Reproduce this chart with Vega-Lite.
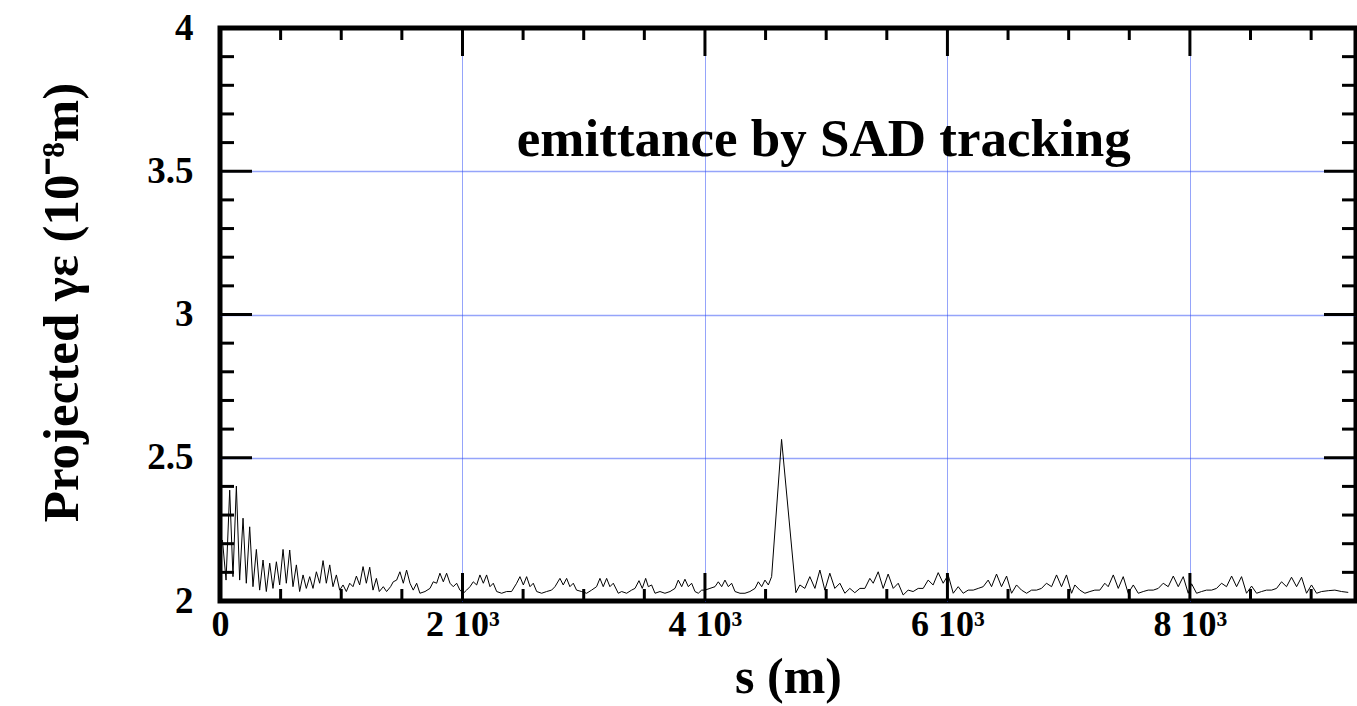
{
  "$schema": "https://vega.github.io/schema/vega-lite/v6.json",
  "width": 1136,
  "height": 573,
  "autosize": {"type": "none"},
  "padding": {"left": 220, "top": 28, "right": 1, "bottom": 105},
  "background": "white",
  "config": {"view": {"stroke": "black", "strokeWidth": 5}, "font": "Liberation Serif"},
  "datasets": {
    "xmajor": [{"v": 2000}, {"v": 4000}, {"v": 6000}, {"v": 8000}],
    "xminor": [{"v": 500}, {"v": 1000}, {"v": 1500}, {"v": 2500}, {"v": 3000}, {"v": 3500}, {"v": 4500}, {"v": 5000}, {"v": 5500}, {"v": 6500}, {"v": 7000}, {"v": 7500}, {"v": 8500}, {"v": 9000}],
    "ymajor": [{"v": 2.5}, {"v": 3}, {"v": 3.5}],
    "yminor": [{"v": 2.1}, {"v": 2.2}, {"v": 2.3}, {"v": 2.4}, {"v": 2.6}, {"v": 2.7}, {"v": 2.8}, {"v": 2.9}, {"v": 3.1}, {"v": 3.2}, {"v": 3.3}, {"v": 3.4}, {"v": 3.6}, {"v": 3.7}, {"v": 3.8}, {"v": 3.9}],
    "emit": [
      {"s":20,"e":2.213},{"s":50,"e":2.073},{"s":80,"e":2.387},{"s":107,"e":2.085},{"s":135,"e":2.401},{"s":162,"e":2.073},{"s":190,"e":2.289},{"s":217,"e":2.062},{"s":245,"e":2.259},{"s":272,"e":2.05},
      {"s":300,"e":2.18},{"s":327,"e":2.038},{"s":355,"e":2.143},{"s":382,"e":2.033},{"s":410,"e":2.132},{"s":437,"e":2.044},{"s":465,"e":2.137},{"s":492,"e":2.056},{"s":520,"e":2.18},{"s":547,"e":2.062},
      {"s":575,"e":2.178},{"s":602,"e":2.05},{"s":630,"e":2.126},{"s":657,"e":2.033},{"s":685,"e":2.091},{"s":712,"e":2.044},{"s":740,"e":2.085},{"s":767,"e":2.044},{"s":795,"e":2.102},{"s":822,"e":2.062},
      {"s":850,"e":2.141},{"s":877,"e":2.062},{"s":905,"e":2.126},{"s":932,"e":2.05},{"s":960,"e":2.091},{"s":987,"e":2.038},{"s":1015,"e":2.056},{"s":1042,"e":2.033},{"s":1070,"e":2.062},{"s":1097,"e":2.05},
      {"s":1125,"e":2.087},{"s":1152,"e":2.056},{"s":1180,"e":2.12},{"s":1207,"e":2.062},{"s":1235,"e":2.118},{"s":1262,"e":2.038},{"s":1290,"e":2.079},
      {"s":1314,"e":2.033},{"s":1347,"e":2.05},{"s":1374,"e":2.033},{"s":1407,"e":2.05},{"s":1429,"e":2.067},{"s":1457,"e":2.073},{"s":1484,"e":2.102},{"s":1512,"e":2.062},{"s":1539,"e":2.108},{"s":1567,"e":2.062},
      {"s":1594,"e":2.038},{"s":1622,"e":2.062},{"s":1649,"e":2.027},{"s":1691,"e":2.033},{"s":1732,"e":2.044},{"s":1759,"e":2.067},{"s":1787,"e":2.062},{"s":1814,"e":2.097},{"s":1842,"e":2.067},{"s":1869,"e":2.097},
      {"s":1897,"e":2.062},{"s":1924,"e":2.05},{"s":1952,"e":2.062},{"s":1979,"e":2.038},{"s":2007,"e":2.027},{"s":2034,"e":2.038},{"s":2062,"e":2.05},{"s":2089,"e":2.067},{"s":2117,"e":2.056},{"s":2144,"e":2.091},
      {"s":2172,"e":2.062},{"s":2199,"e":2.091},{"s":2227,"e":2.05},{"s":2254,"e":2.062},{"s":2282,"e":2.033},{"s":2323,"e":2.027},{"s":2364,"e":2.033},{"s":2405,"e":2.033},{"s":2447,"e":2.062},{"s":2474,"e":2.085},
      {"s":2502,"e":2.056},{"s":2529,"e":2.085},{"s":2557,"e":2.05},{"s":2584,"e":2.062},{"s":2612,"e":2.033},{"s":2653,"e":2.027},{"s":2694,"e":2.033},{"s":2735,"e":2.038},{"s":2763,"e":2.05},{"s":2804,"e":2.079},
      {"s":2831,"e":2.056},{"s":2859,"e":2.079},{"s":2886,"e":2.05},{"s":2914,"e":2.062},{"s":2941,"e":2.038},{"s":2983,"e":2.033},{"s":3024,"e":2.027},{"s":3065,"e":2.038},{"s":3106,"e":2.05},{"s":3134,"e":2.079},
      {"s":3161,"e":2.05},{"s":3189,"e":2.079},{"s":3216,"e":2.05},{"s":3244,"e":2.062},
      {"s":3285,"e":2.027},{"s":3313,"e":2.033},{"s":3354,"e":2.027},{"s":3395,"e":2.038},{"s":3423,"e":2.044},{"s":3456,"e":2.071},{"s":3483,"e":2.044},{"s":3511,"e":2.079},{"s":3533,"e":2.05},{"s":3560,"e":2.056},
      {"s":3588,"e":2.027},{"s":3629,"e":2.033},{"s":3670,"e":2.027},{"s":3712,"e":2.033},{"s":3753,"e":2.044},{"s":3780,"e":2.073},{"s":3808,"e":2.05},{"s":3835,"e":2.076},{"s":3863,"e":2.05},{"s":3890,"e":2.062},
      {"s":3918,"e":2.033},{"s":3945,"e":2.027},{"s":3973,"e":2.038},{"s":4000,"e":2.038},{"s":4041,"e":2.044},{"s":4083,"e":2.05},{"s":4110,"e":2.067},{"s":4138,"e":2.05},{"s":4165,"e":2.073},{"s":4193,"e":2.05},
      {"s":4220,"e":2.062},{"s":4248,"e":2.033},{"s":4289,"e":2.027},{"s":4330,"e":2.027},{"s":4371,"e":2.033},{"s":4413,"e":2.044},{"s":4440,"e":2.067},{"s":4468,"e":2.05},{"s":4495,"e":2.073},{"s":4523,"e":2.056},
      {"s":4550,"e":2.085},{"s":4632,"e":2.564},{"s":4750,"e":2.029},
      {"s":4783,"e":2.056},{"s":4824,"e":2.044},{"s":4865,"e":2.085},{"s":4907,"e":2.044},{"s":4948,"e":2.108},{"s":4989,"e":2.038},{"s":5030,"e":2.097},{"s":5071,"e":2.044},{"s":5113,"e":2.062},{"s":5154,"e":2.027},
      {"s":5195,"e":2.044},{"s":5236,"e":2.029},{"s":5278,"e":2.044},{"s":5319,"e":2.044},{"s":5360,"e":2.079},{"s":5388,"e":2.062},{"s":5429,"e":2.102},{"s":5470,"e":2.044},{"s":5511,"e":2.094},{"s":5553,"e":2.044},
      {"s":5594,"e":2.062},{"s":5635,"e":2.021},{"s":5676,"e":2.038},{"s":5717,"e":2.033},{"s":5759,"e":2.044},{"s":5800,"e":2.044},{"s":5841,"e":2.073},{"s":5882,"e":2.056},{"s":5924,"e":2.099},{"s":5965,"e":2.062},
      {"s":6006,"e":2.091},{"s":6048,"e":2.027},{"s":6089,"e":2.05},{"s":6130,"e":2.027},{"s":6171,"e":2.038},{"s":6213,"e":2.038},{"s":6254,"e":2.044},{"s":6295,"e":2.05},{"s":6336,"e":2.073},{"s":6364,"e":2.05},
      {"s":6405,"e":2.094},{"s":6446,"e":2.05},{"s":6488,"e":2.087},{"s":6529,"e":2.027},{"s":6570,"e":2.056},{"s":6611,"e":2.038},{"s":6653,"e":2.027},{"s":6694,"e":2.038},{"s":6735,"e":2.038},{"s":6776,"e":2.044},
      {"s":6817,"e":2.062},{"s":6859,"e":2.05},{"s":6900,"e":2.091},{"s":6941,"e":2.05},{"s":6982,"e":2.091},{"s":7024,"e":2.027},{"s":7051,"e":2.056},{"s":7092,"e":2.038},{"s":7134,"e":2.027},{"s":7175,"e":2.033},
      {"s":7216,"e":2.038},{"s":7257,"e":2.038},{"s":7298,"e":2.062},
      {"s":7326,"e":2.05},{"s":7368,"e":2.091},{"s":7409,"e":2.044},{"s":7450,"e":2.085},{"s":7491,"e":2.027},{"s":7533,"e":2.056},{"s":7574,"e":2.027},{"s":7615,"e":2.033},{"s":7656,"e":2.038},{"s":7698,"e":2.038},
      {"s":7739,"e":2.044},{"s":7780,"e":2.062},{"s":7821,"e":2.05},{"s":7863,"e":2.087},{"s":7904,"e":2.05},{"s":7945,"e":2.085},{"s":7986,"e":2.027},{"s":8014,"e":2.06},{"s":8055,"e":2.027},{"s":8096,"e":2.033},
      {"s":8137,"e":2.038},{"s":8179,"e":2.038},{"s":8220,"e":2.044},{"s":8261,"e":2.062},{"s":8302,"e":2.05},{"s":8344,"e":2.087},{"s":8385,"e":2.05},{"s":8426,"e":2.085},{"s":8467,"e":2.027},{"s":8509,"e":2.052},
      {"s":8550,"e":2.027},{"s":8591,"e":2.033},{"s":8632,"e":2.038},{"s":8674,"e":2.038},{"s":8715,"e":2.044},{"s":8756,"e":2.067},{"s":8797,"e":2.05},{"s":8838,"e":2.083},{"s":8880,"e":2.05},{"s":8921,"e":2.083},
      {"s":8962,"e":2.027},{"s":9003,"e":2.056},{"s":9045,"e":2.027},{"s":9086,"e":2.033},{"s":9141,"e":2.036},{"s":9196,"e":2.038},{"s":9251,"e":2.033},{"s":9306,"e":2.03}
    ]
  },
  "layer": [
    {
      "data": {"name": "emit"},
      "mark": {"type": "line", "color": "black", "strokeWidth": 1},
      "encoding": {
        "x": {
          "field": "s", "type": "quantitative",
          "scale": {"domain": [0, 9370], "nice": false, "zero": false},
          "axis": {
            "orient": "bottom",
            "values": [0, 2000, 4000, 6000, 8000],
            "labelExpr": "datum.value === 0 ? '0' : (datum.value/1000) + ' 10³'",
            "labelFont": "Liberation Serif", "labelFontWeight": "bold", "labelFontSize": 36, "labelColor": "black",
            "labelFlush": false, "labelOverlap": false, "labelBound": false, "labelPadding": 6,
            "ticks": false, "tickSize": 0, "domain": false,
            "grid": true, "gridColor": "#2a48f5", "gridDash": [1, 1], "gridWidth": 1,
            "gridOpacity": {"condition": {"test": "datum.value > 0", "value": 1}, "value": 0},
            "title": "s (m)", "titleFont": "Liberation Serif", "titleFontWeight": "bold", "titleFontSize": 50, "titleColor": "black", "titlePadding": 10
          }
        },
        "y": {
          "field": "e", "type": "quantitative",
          "scale": {"domain": [2, 4], "nice": false, "zero": false},
          "axis": {
            "orient": "left",
            "values": [2, 2.5, 3, 3.5, 4],
            "labelExpr": "'' + datum.value",
            "labelFont": "Liberation Serif", "labelFontWeight": "bold", "labelFontSize": 37, "labelColor": "black",
            "labelFlush": false, "labelOverlap": false, "labelBound": false, "labelPadding": 27,
            "ticks": false, "tickSize": 0, "domain": false,
            "grid": true, "gridColor": "#2a48f5", "gridDash": [1, 1], "gridWidth": 1.5,
            "gridOpacity": {"condition": {"test": "datum.value > 2.01 && datum.value < 3.99", "value": 1}, "value": 0},
            "title": "Projected γε (10⁻⁸m)", "titleFont": "Liberation Serif", "titleFontWeight": "bold", "titleFontSize": 51, "titleColor": "black",
            "titlePadding": 58, "titleY": 274
          }
        }
      }
    },
    {
      "data": {"values": [{"t": "emittance by SAD tracking"}]},
      "mark": {"type": "text", "font": "Liberation Serif", "fontWeight": "bold", "fontSize": 53, "align": "center", "baseline": "middle", "color": "black"},
      "encoding": {
        "x": {"datum": 4980, "type": "quantitative", "scale": {"domain": [0, 9370], "nice": false, "zero": false}, "axis": null},
        "y": {"datum": 3.61, "type": "quantitative", "scale": {"domain": [2, 4], "nice": false, "zero": false}, "axis": null},
        "text": {"field": "t"}
      }
    },
    {
      "data": {"name": "xmajor"},
      "mark": {"type": "tick", "orient": "vertical", "size": 28, "thickness": 3, "yOffset": -14, "color": "black", "opacity": 1},
      "encoding": {
        "x": {"field": "v", "type": "quantitative", "scale": {"domain": [0, 9370], "nice": false, "zero": false}, "axis": null},
        "y": {"datum": 2, "type": "quantitative", "scale": {"domain": [2, 4], "nice": false, "zero": false}, "axis": null}
      }
    },
    {
      "data": {"name": "xminor"},
      "mark": {"type": "tick", "orient": "vertical", "size": 12, "thickness": 3, "yOffset": -6, "color": "black", "opacity": 1},
      "encoding": {
        "x": {"field": "v", "type": "quantitative", "scale": {"domain": [0, 9370], "nice": false, "zero": false}, "axis": null},
        "y": {"datum": 2, "type": "quantitative", "scale": {"domain": [2, 4], "nice": false, "zero": false}, "axis": null}
      }
    },
    {
      "data": {"name": "xmajor"},
      "mark": {"type": "tick", "orient": "vertical", "size": 28, "thickness": 3, "yOffset": 14, "color": "black", "opacity": 1},
      "encoding": {
        "x": {"field": "v", "type": "quantitative", "scale": {"domain": [0, 9370], "nice": false, "zero": false}, "axis": null},
        "y": {"datum": 4, "type": "quantitative", "scale": {"domain": [2, 4], "nice": false, "zero": false}, "axis": null}
      }
    },
    {
      "data": {"name": "xminor"},
      "mark": {"type": "tick", "orient": "vertical", "size": 12, "thickness": 3, "yOffset": 6, "color": "black", "opacity": 1},
      "encoding": {
        "x": {"field": "v", "type": "quantitative", "scale": {"domain": [0, 9370], "nice": false, "zero": false}, "axis": null},
        "y": {"datum": 4, "type": "quantitative", "scale": {"domain": [2, 4], "nice": false, "zero": false}, "axis": null}
      }
    },
    {
      "data": {"name": "ymajor"},
      "mark": {"type": "tick", "orient": "horizontal", "size": 32, "thickness": 3, "xOffset": 16, "color": "black", "opacity": 1},
      "encoding": {
        "x": {"datum": 0, "type": "quantitative", "scale": {"domain": [0, 9370], "nice": false, "zero": false}, "axis": null},
        "y": {"field": "v", "type": "quantitative", "scale": {"domain": [2, 4], "nice": false, "zero": false}, "axis": null}
      }
    },
    {
      "data": {"name": "yminor"},
      "mark": {"type": "tick", "orient": "horizontal", "size": 14, "thickness": 3, "xOffset": 7, "color": "black", "opacity": 1},
      "encoding": {
        "x": {"datum": 0, "type": "quantitative", "scale": {"domain": [0, 9370], "nice": false, "zero": false}, "axis": null},
        "y": {"field": "v", "type": "quantitative", "scale": {"domain": [2, 4], "nice": false, "zero": false}, "axis": null}
      }
    },
    {
      "data": {"name": "ymajor"},
      "mark": {"type": "tick", "orient": "horizontal", "size": 32, "thickness": 3, "xOffset": -16, "color": "black", "opacity": 1},
      "encoding": {
        "x": {"datum": 9370, "type": "quantitative", "scale": {"domain": [0, 9370], "nice": false, "zero": false}, "axis": null},
        "y": {"field": "v", "type": "quantitative", "scale": {"domain": [2, 4], "nice": false, "zero": false}, "axis": null}
      }
    },
    {
      "data": {"name": "yminor"},
      "mark": {"type": "tick", "orient": "horizontal", "size": 14, "thickness": 3, "xOffset": -7, "color": "black", "opacity": 1},
      "encoding": {
        "x": {"datum": 9370, "type": "quantitative", "scale": {"domain": [0, 9370], "nice": false, "zero": false}, "axis": null},
        "y": {"field": "v", "type": "quantitative", "scale": {"domain": [2, 4], "nice": false, "zero": false}, "axis": null}
      }
    }
  ],
  "resolve": {"axis": {"x": "independent", "y": "independent"}}
}
